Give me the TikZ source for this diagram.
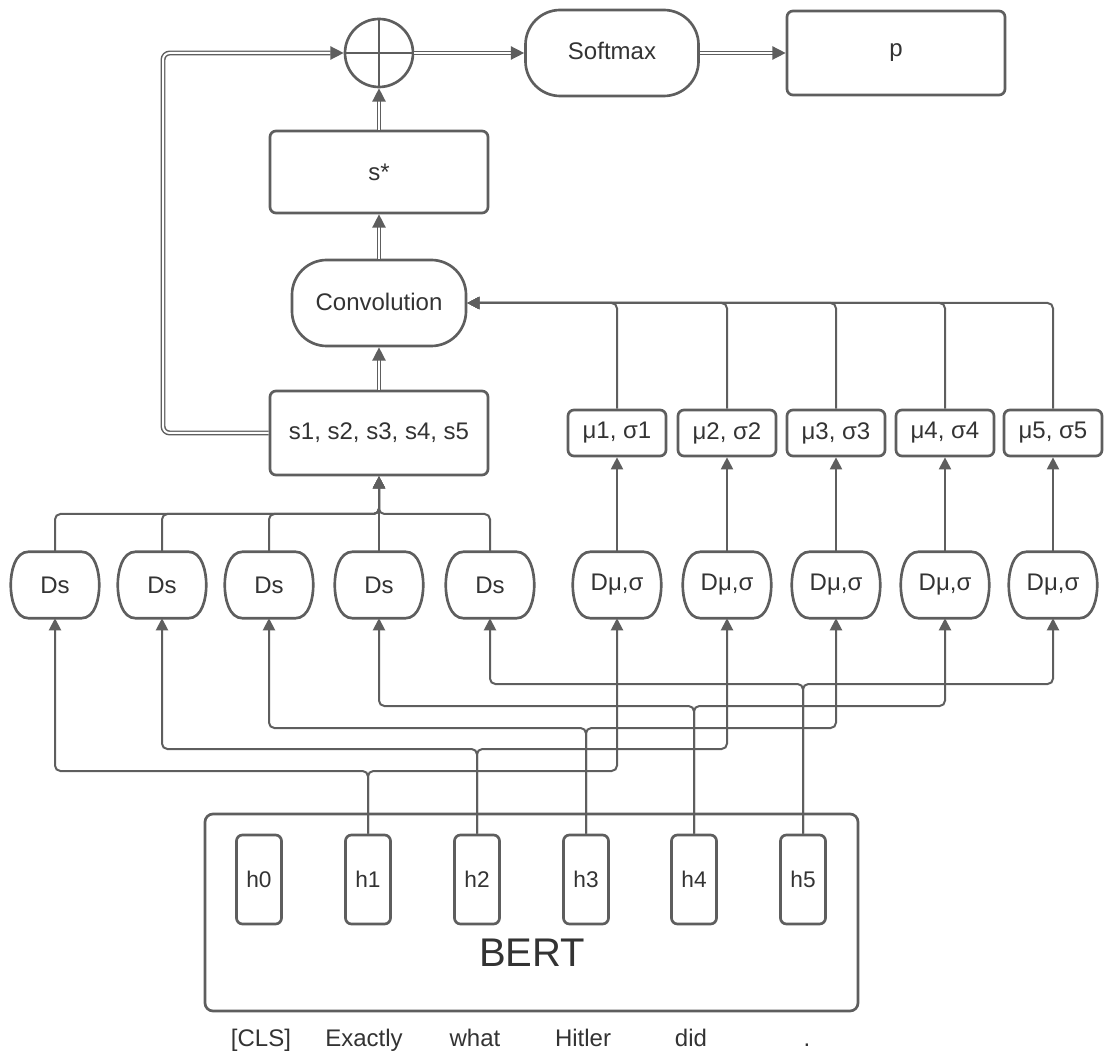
\documentclass[tikz,border=0pt]{standalone}
\usepackage{fontspec}
\setmainfont{Liberation Sans}
\usetikzlibrary{arrows.meta}
\definecolor{ln}{HTML}{5E5E5E}
\definecolor{tx}{HTML}{333333}
\begin{document}
\begin{tikzpicture}[x=0.75pt,y=-0.75pt,
  box/.style={draw=ln,line width=2pt,rounded corners=4.5pt,inner sep=0pt,text=tx,font=\fontsize{18}{20}\selectfont,fill=white},
  pill/.style={box,rounded corners=26pt},
  dnode/.style={inner sep=0pt,text=tx,font=\fontsize{18}{20}\selectfont,minimum width=66pt,minimum height=49.5pt},
  barrel/.style={draw=ln,line width=2pt},
  mubox/.style={box,minimum width=73.5pt,minimum height=34.5pt},
  hbox/.style={box,minimum width=33.75pt,minimum height=66.75pt,font=\fontsize{17}{19}\selectfont},
  word/.style={text=tx,font=\fontsize{18}{20}\selectfont,inner sep=0pt,anchor=base},
  conn/.style={draw=ln,line width=1.5pt,rounded corners=4pt},
  arr/.style={conn,-{Triangle[length=9pt,width=9pt]}},
  dbl/.style={draw=ln,line width=1.1pt,double=white,double distance=1.5pt,rounded corners=5pt,-{Triangle[length=10pt,width=10pt]}}
]
\useasboundingbox (0,0) rectangle (1104,1055);
% top row
\node[circle,draw=ln,line width=2pt,minimum size=51pt,inner sep=0pt] (plus) at (379,53) {};
\draw[ln,line width=2pt] (plus.north)--(plus.south) (plus.west)--(plus.east);
\node[pill,minimum width=129.75pt,minimum height=64.5pt] (soft) at (612,53) {\raisebox{3pt}{Softmax}};
\node[box,minimum width=163.5pt,minimum height=63pt] (p) at (896,53) {p};
\node[box,minimum width=163.5pt,minimum height=61.5pt] (sstar) at (379,172) {s*};
\node[pill,minimum width=130.5pt,minimum height=64.5pt] (conv) at (379,303) {\raisebox{1.5pt}{Convolution}};
\node[box,minimum width=163.5pt,minimum height=63pt] (sbox) at (379,433) {s1, s2, s3, s4, s5};
% mu boxes and D nodes
\foreach \i/\x in {1/617,2/727,3/836,4/945,5/1053}{
  \node[mubox] (mu\i) at (\x,433) {μ\i, σ\i};
  \node[dnode] (dm\i) at (\x,585) {Dμ,σ};
}
\foreach \i/\x in {1/55,2/162,3/269,4/379,5/490}{
  \node[dnode] (ds\i) at (\x,585) {Ds};
}
\foreach \n in {dm1,dm2,dm3,dm4,dm5,ds1,ds2,ds3,ds4,ds5}{
  \draw[barrel] ([xshift=13.5pt]\n.north west) -- ([xshift=-13.5pt]\n.north east)
    .. controls ([xshift=-3pt]\n.north east) and ([yshift=10pt]\n.east) .. (\n.east)
    .. controls ([yshift=-10pt]\n.east) and ([xshift=-3pt]\n.south east) .. ([xshift=-13.5pt]\n.south east)
    -- ([xshift=13.5pt]\n.south west)
    .. controls ([xshift=3pt]\n.south west) and ([yshift=-10pt]\n.west) .. (\n.west)
    .. controls ([yshift=10pt]\n.west) and ([xshift=3pt]\n.north west) .. cycle;
}
% BERT
\node[box,rounded corners=6pt,minimum width=489.75pt,minimum height=147.75pt] (bert) at (531.5,912.5) {};
\node[text=tx,font=\fontsize{30}{32}\selectfont,inner sep=0pt] (bertlbl) at (532,953) {BERT};
\foreach \i/\x in {0/259,1/368,2/477,3/586,4/694,5/803}{
  \node[hbox] (h\i) at (\x,879.5) {h\i};
}
\node[word] (w0) at (261,1046) {[CLS]};
\node[word] (w1) at (364,1046) {Exactly};
\node[word] (w2) at (475,1046) {what};
\node[word] (w3) at (583,1046) {Hitler};
\node[word] (w4) at (691,1046) {did};
\node[word] (w5) at (807,1046) {.};
% double connectors
\coordinate (lc) at (163,53);
\draw[dbl] (sbox.west) -| (lc) -- (plus.west);
\draw[dbl] (plus.east) -- (soft.west);
\draw[dbl] (soft.east) -- (p.west);
\draw[dbl] (sstar.north) -- (plus.south);
\draw[dbl] (conv.north) -- (sstar.south);
\draw[dbl] (sbox.north) -- (conv.south);
% mu to convolution
\foreach \i in {1,...,5}{
  \draw[arr] (mu\i.north) |- (conv.east);
  \draw[arr] (dm\i.north) -- (mu\i.south);
}
% Ds to s box
\coordinate (bj) at (379,514);
\foreach \i in {1,2,3,5}{
  \draw[arr] (ds\i.north) |- (bj) -- (sbox.south);
}
\draw[arr] (ds4.north) -- (sbox.south);
% h wiring
\foreach \i/\y in {1/771,2/749,3/728,4/706,5/684}{
  \draw[arr] (h\i.north) |- (ds\i.south |- {(0,\y)}) -- (ds\i.south);
  \draw[arr] (h\i.north) |- (dm\i.south |- {(0,\y)}) -- (dm\i.south);
}
\end{tikzpicture}
\end{document}
